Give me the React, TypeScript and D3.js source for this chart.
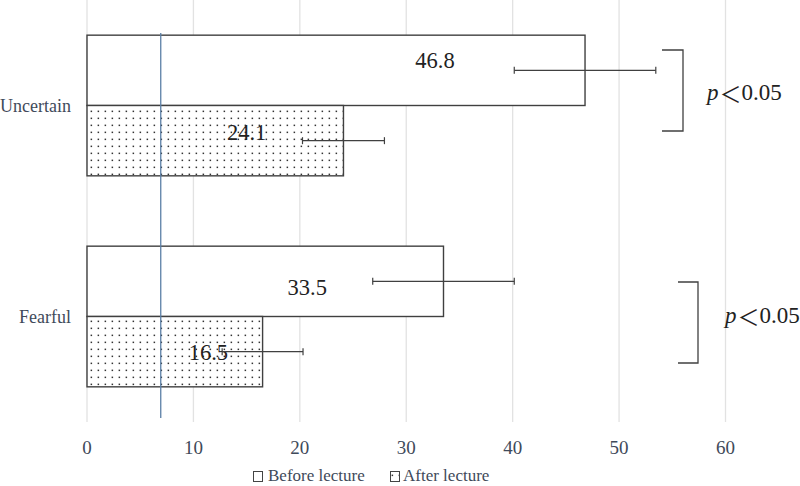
import React from "react";
import * as d3 from "d3";

const categories = ["Uncertain", "Fearful"];
const seriesNames = ["Before lecture", "After lecture"];
const beforeValues = [46.8, 33.5];
const afterValues = [24.1, 16.5];
const beforeErrors = [6.65, 6.65];
const afterErrors = [3.85, 3.8];
const xTicks = [0, 10, 20, 30, 40, 50, 60];
const refLineValue = 6.93;
const pLabels = ["p", "p"];
// label anchor positions in data units
const labelAnchorBefore = [32.7, 20.7];
const labelAnchorAfter = [15.0, 11.4];

const W = 800;
const H = 486;
const FONT = "Liberation Serif, Tinos, Times New Roman, DejaVu Serif, serif";
const TEXT = "#3f4a5a";
const DARK = "#404040";

export default function App() {
  const x = d3.scaleLinear().domain([0, 60]).range([87, 725.5]);
  const y = d3
    .scaleBand<string>()
    .domain(categories)
    .range([0, 422])
    .paddingInner(1 / 3)
    .paddingOuter(1 / 6);
  const sub = d3.scaleBand<string>().domain(seriesNames).range([0, y.bandwidth()]);
  const bh = sub.bandwidth();

  const bars = categories.flatMap((c, i) => [
    { c, s: seriesNames[0], v: beforeValues[i], e: beforeErrors[i], lx: labelAnchorBefore[i], dy: i === 0 ? -10 : 6 },
    { c, s: seriesNames[1], v: afterValues[i], e: afterErrors[i], lx: labelAnchorAfter[i], dy: i === 0 ? -8 : 1 },
  ]);

  return (
    <svg width={W} height={H} style={{ position: "absolute", left: 0, top: 0, background: "#fff", fontFamily: FONT }}>
      <defs>
        <pattern id="dots" width={7} height={7} patternUnits="userSpaceOnUse" x={88} y={108}>
          <rect width={7} height={7} fill="#fff" />
          <rect x={2.6} y={2.6} width={1.5} height={1.5} fill="#333" />
        </pattern>
      </defs>
      {xTicks.map((t) => (
        <line key={t} x1={x(t)} x2={x(t)} y1={0} y2={422} stroke="#e2e2e2" strokeWidth={1.3} />
      ))}
      {xTicks.map((t) => (
        <text key={"t" + t} x={x(t)} y={447} textAnchor="middle" dominantBaseline="central" style={{ fontFamily: FONT }} fontSize={19} fill={TEXT}>
          {t}
        </text>
      ))}
      {categories.map((c) => (
        <text key={c} x={71} y={(y(c) as number) + y.bandwidth() / 2} textAnchor="end" dominantBaseline="central" style={{ fontFamily: FONT }} fontSize={18} fill={TEXT}>
          {c}
        </text>
      ))}
      {bars.map((b, i) => {
        const y0 = (y(b.c) as number) + (sub(b.s) as number);
        return (
          <rect key={"b" + i} x={x(0)} y={y0} width={x(b.v) - x(0)} height={bh}
            fill={b.s === seriesNames[0] ? "#fff" : "url(#dots)"} stroke={DARK} strokeWidth={1.4} />
        );
      })}
      <line x1={x(refLineValue)} x2={x(refLineValue)} y1={33} y2={418} stroke="#5b7fa6" strokeWidth={1.3} />
      {bars.map((b, i) => {
        const yc = (y(b.c) as number) + (sub(b.s) as number) + bh / 2;
        return (
          <text key={"l" + i} x={x(b.lx)} y={yc + b.dy} textAnchor="middle" dominantBaseline="central" style={{ fontFamily: FONT }} fontSize={22.5} fill="#222">
            {b.v.toFixed(1)}
          </text>
        );
      })}
      {bars.map((b, i) => {
        const yc = (y(b.c) as number) + (sub(b.s) as number) + bh / 2;
        return (
          <g key={"e" + i} stroke={DARK} strokeWidth={1.2}>
            <line x1={x(b.v - b.e)} x2={x(b.v + b.e)} y1={yc} y2={yc} />
            <line x1={x(b.v - b.e)} x2={x(b.v - b.e)} y1={yc - 3.5} y2={yc + 3.5} />
            <line x1={x(b.v + b.e)} x2={x(b.v + b.e)} y1={yc - 3.5} y2={yc + 3.5} />
          </g>
        );
      })}
      {/* significance brackets */}
      <path d="M662,50 H683 V131 H662" fill="none" stroke={DARK} strokeWidth={1.3} />
      <path d="M678,282 H698 V363 H678" fill="none" stroke={DARK} strokeWidth={1.3} />
      <text x={707} y={92} dominantBaseline="central" style={{ fontFamily: FONT }} fontSize={23} fill="#222">
        <tspan fontStyle="italic">{pLabels[0]}</tspan>
        <tspan style={{ fontFamily: "Noto Sans CJK JP" }} fontSize={22} dx={1}>＜</tspan>
        <tspan>0.05</tspan>
      </text>
      <text x={725} y={315} dominantBaseline="central" style={{ fontFamily: FONT }} fontSize={23} fill="#222">
        <tspan fontStyle="italic">{pLabels[1]}</tspan>
        <tspan style={{ fontFamily: "Noto Sans CJK JP" }} fontSize={22} dx={1}>＜</tspan>
        <tspan>0.05</tspan>
      </text>
      {/* legend */}
      <rect x={253.5} y={471.5} width={9} height={10} fill="#fff" stroke="#444" strokeWidth={1} />
      <text x={268} y={475} dominantBaseline="central" style={{ fontFamily: FONT }} fontSize={17} fill={TEXT}>{seriesNames[0]}</text>
      <rect x={390.5} y={471.5} width={9} height={10} fill="url(#dots)" stroke="#444" strokeWidth={1} />
      <text x={403} y={475} dominantBaseline="central" style={{ fontFamily: FONT }} fontSize={17} fill={TEXT}>{seriesNames[1]}</text>
    </svg>
  );
}
